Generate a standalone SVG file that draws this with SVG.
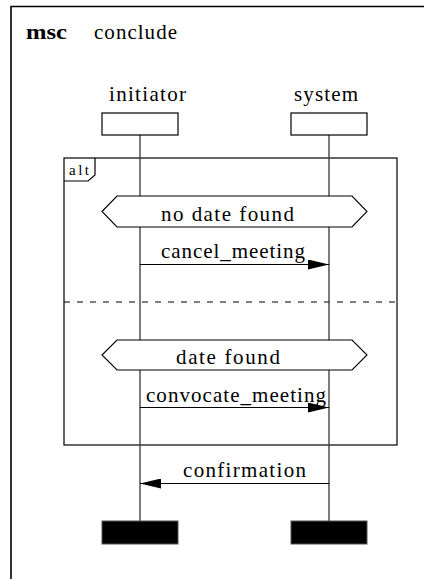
<svg xmlns="http://www.w3.org/2000/svg" width="424" height="579" viewBox="0 0 424 579">
  <defs>
    <style>
      text { font-family: 'Liberation Serif', 'DejaVu Serif', serif; fill: #000; }
      .txt { font-size: 21px; }
      .small { font-size: 15px; }
      .frame { fill: none; stroke: #000; stroke-width: 1.2; }
      .head { fill: #fff; stroke: #000; stroke-width: 1.2; }
      .life { fill: none; stroke: #444; stroke-width: 1.4; }
      .stop { fill: #000; stroke: #555; stroke-width: 1; }
      .cond { fill: #fff; stroke: #000; stroke-width: 1.1; }
      .msg { fill: none; stroke: #000; stroke-width: 1.1; }
    </style>
    <marker id="arrow" viewBox="0 0 21 10" refX="21" refY="5" markerWidth="21" markerHeight="10" markerUnits="userSpaceOnUse" orient="auto">
      <path d="M0,0 L21,5 L0,10 Z" fill="#000"/>
    </marker>
  </defs>

  <!-- diagram frame and title -->
  <g id="msc-frame">
    <path d="M11,579 L11,6.5 L424,6.5" fill="none" stroke="#000" stroke-width="1.6"/>
    <text x="26" y="39" class="txt" font-weight="bold" textLength="41" lengthAdjust="spacingAndGlyphs">msc</text>
    <text x="94" y="39" class="txt" textLength="83" lengthAdjust="spacing">conclude</text>
  </g>

  <!-- alt combined fragment -->
  <g id="alt-fragment">
    <rect x="64" y="158" width="333" height="287" class="frame"/>
    <path d="M64,181 L88,181 L95,175 L95,158" class="frame"/>
    <text x="69" y="175" class="small" textLength="20" lengthAdjust="spacing">alt</text>
    <line x1="64" y1="302" x2="397" y2="302" stroke="#000" stroke-width="1.1" stroke-dasharray="6 7"/>
  </g>

  <!-- lifelines -->
  <g id="initiator">
    <text x="109" y="101" class="txt" textLength="77" lengthAdjust="spacing">initiator</text>
    <line x1="140" y1="135" x2="140" y2="521" class="life"/>
    <rect x="102" y="113" width="76" height="22" class="head"/>
    <rect x="102" y="521" width="76" height="23" class="stop"/>
  </g>
  <g id="system">
    <text x="294" y="101" class="txt" textLength="64" lengthAdjust="spacing">system</text>
    <line x1="329" y1="135" x2="329" y2="521" class="life"/>
    <rect x="291" y="113" width="76" height="22" class="head"/>
    <rect x="291" y="521" width="76" height="23" class="stop"/>
  </g>

  <!-- guard conditions -->
  <g id="cond-no-date">
    <polygon points="102,211.5 117,196 352,196 367,211.5 352,227 117,227" class="cond"/>
    <text x="161" y="221" class="txt" textLength="133" lengthAdjust="spacing">no date found</text>
  </g>
  <g id="cond-date">
    <polygon points="102,355 117,340 352,340 367,355 352,370 117,370" class="cond"/>
    <text x="176" y="364" class="txt" textLength="104" lengthAdjust="spacing">date found</text>
  </g>

  <!-- messages -->
  <g id="connectors">
    <line x1="140" y1="264.5" x2="329" y2="264.5" class="msg" marker-end="url(#arrow)"/>
    <text x="161" y="258" class="txt" textLength="144" lengthAdjust="spacing">cancel_meeting</text>

    <line x1="140" y1="407.5" x2="329" y2="407.5" class="msg" marker-end="url(#arrow)"/>
    <text x="146" y="402" class="txt" textLength="180" lengthAdjust="spacing">convocate_meeting</text>

    <line x1="329" y1="483.5" x2="140" y2="483.5" class="msg" marker-end="url(#arrow)"/>
    <text x="183" y="477" class="txt" textLength="123" lengthAdjust="spacing">confirmation</text>
  </g>
</svg>
